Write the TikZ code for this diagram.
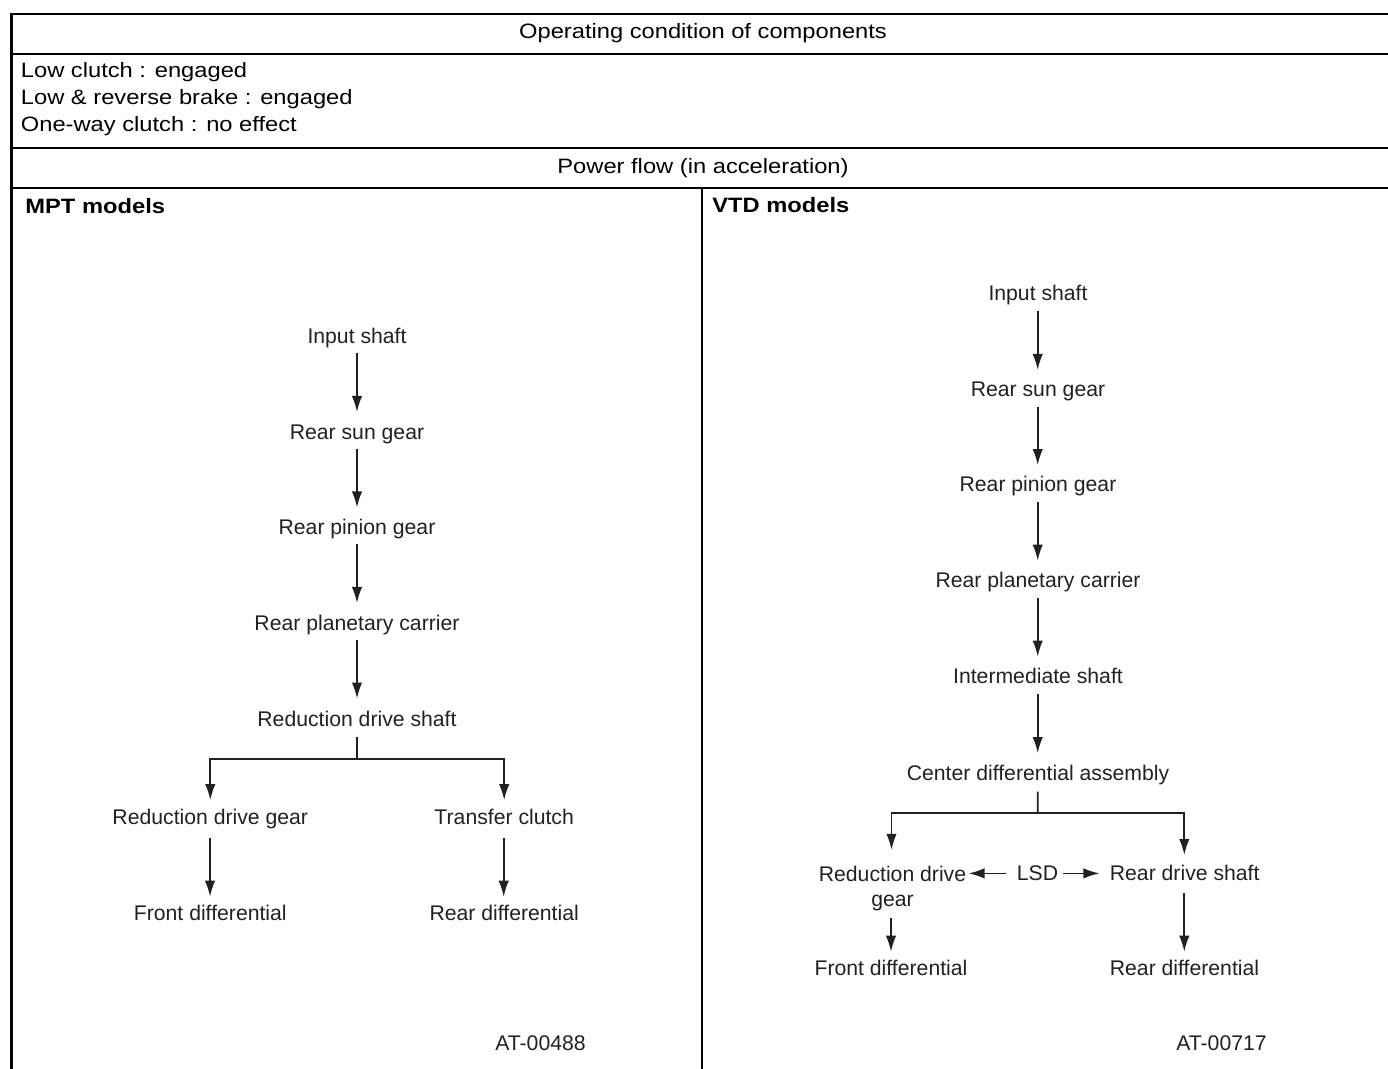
\documentclass[tikz,border=0pt]{standalone}
\usepackage{fontspec}
\setmainfont{Liberation Sans}
\newfontfamily\hdrfont{Liberation Sans}[FakeStretch=1.14]
\usetikzlibrary{arrows.meta}
\definecolor{treegray}{gray}{0.13}
\begin{document}
\begin{tikzpicture}[x=0.5pt,y=-0.5pt,
  rule/.style={line width=1pt, line join=miter, line cap=rect},
  hdr/.style={font=\hdrfont\fontsize{10.4pt}{13.4pt}\selectfont, inner sep=0pt, text height=7.45pt, text depth=0pt},
  hdrbold/.style={font=\hdrfont\bfseries\fontsize{10.4pt}{13.4pt}\selectfont, inner sep=0pt, text height=7.45pt, text depth=0pt},
  comp/.style={font=\fontsize{10.6pt}{12.5pt}\selectfont, text=treegray, inner sep=0pt, text height=7.5pt, text depth=0pt},
  multi/.style={font=\fontsize{10.6pt}{12.5pt}\selectfont, text=treegray, inner sep=0pt, align=center},
  flow/.style={line width=0.85pt, draw=treegray, -{Latex[length=8pt,width=5.2pt]}},
  link/.style={line width=0.85pt, draw=treegray}
]
\useasboundingbox (0,0) rectangle (1388,1069);

% table rules
\draw[rule, line width=1.3pt] (1388,14) -- (11.3,14) -- (11.3,1069);
\draw[rule] (11.3,53.7) -- (1388,53.7);
\draw[rule] (11.3,147.7) -- (1388,147.7);
\draw[rule] (11.3,187.7) -- (1388,187.7);
\draw[rule] (701.7,187.7) -- (701.7,1069);

% header texts
\node[hdr] (title) at (703,31) {Operating condition of components};
\node[hdr, anchor=north west, text height=, align=left] (cond) at (20.5,62.5)
  {Low clutch : engaged\\Low \& reverse brake : engaged\\One-way clutch : no effect};
\node[hdr] (power) at (703,166) {Power flow (in acceleration)};
\node[hdrbold, anchor=west] (mpt) at (25,206) {MPT models};
\node[hdrbold, anchor=west] (vtd) at (712,205.5) {VTD models};

% ---------- MPT tree ----------
\node[comp] (L1) at (357,336) {Input shaft};
\node[comp] (L2) at (357,432) {Rear sun gear};
\node[comp] (L3) at (357,527.5) {Rear pinion gear};
\node[comp] (L4) at (357,623) {Rear planetary carrier};
\node[comp] (L5) at (357,718.5) {Reduction drive shaft};
\node[comp] (L6) at (210.3,817.3) {Reduction drive gear};
\node[comp] (L7) at (504.2,817.3) {Transfer clutch};
\node[comp] (L8) at (210.3,913.3) {Front differential};
\node[comp] (L9) at (504.2,913.3) {Rear differential};
\node[comp] (Lid) at (540.5,1043.3) {AT-00488};

\draw[flow] ([yshift=-8.5pt]L1.center) -- ([yshift=10pt]L2.center);
\draw[flow] ([yshift=-8.5pt]L2.center) -- ([yshift=10pt]L3.center);
\draw[flow] ([yshift=-8.5pt]L3.center) -- ([yshift=10pt]L4.center);
\draw[flow] ([yshift=-8.5pt]L4.center) -- ([yshift=10pt]L5.center);
\coordinate (Lbr) at (357,759);
\draw[link] ([yshift=-9pt]L5.center) -- (Lbr);
\draw[flow] (Lbr) -| ([yshift=8.6pt]L6.center);
\draw[flow] (Lbr) -| ([yshift=8.6pt]L7.center);
\draw[flow] ([xshift=-0.15pt,yshift=-10.5pt]L6.center) -- ([xshift=-0.15pt,yshift=8.3pt]L8.center);
\draw[flow] ([xshift=-0.25pt,yshift=-10.5pt]L7.center) -- ([xshift=-0.25pt,yshift=8.3pt]L9.center);

% ---------- VTD tree ----------
\node[comp] (R1) at (1038,293.5) {Input shaft};
\node[comp] (R2) at (1038,389.3) {Rear sun gear};
\node[comp] (R3) at (1038,484.5) {Rear pinion gear};
\node[comp] (R4) at (1038,580) {Rear planetary carrier};
\node[comp] (R5) at (1038,676) {Intermediate shaft};
\node[comp] (R6) at (1038,772.5) {Center differential assembly};
\node[multi, anchor=north] (R7) at (892.5,865.8) {Reduction drive\\gear};
\node[comp] (lsd) at (1037.5,873.4) {LSD};
\node[comp] (R8) at (1184.7,873.4) {Rear drive shaft};
\node[comp] (R9) at (891,968.3) {Front differential};
\node[comp] (R10) at (1184.5,968.3) {Rear differential};
\node[comp] (Rid) at (1221.5,1043.3) {AT-00717};

\draw[flow] ([xshift=-0.15pt,yshift=-9pt]R1.center) -- ([xshift=-0.15pt,yshift=9.7pt]R2.center);
\draw[flow] ([xshift=-0.15pt,yshift=-9pt]R2.center) -- ([xshift=-0.15pt,yshift=9.7pt]R3.center);
\draw[flow] ([xshift=-0.15pt,yshift=-9pt]R3.center) -- ([xshift=-0.15pt,yshift=9.7pt]R4.center);
\draw[flow] ([xshift=-0.15pt,yshift=-9pt]R4.center) -- ([xshift=-0.15pt,yshift=9.7pt]R5.center);
\draw[flow] ([xshift=-0.15pt,yshift=-9pt]R5.center) -- ([xshift=-0.15pt,yshift=9.7pt]R6.center);
\coordinate (Rbr) at (1037.7,813.3);
\draw[link] ([xshift=-0.15pt,yshift=-9.6pt]R6.center) -- (Rbr);
\draw[flow] (Rbr) -| ([xshift=-0.5pt,yshift=8pt]R7.north);
\draw[flow] (Rbr) -| ([xshift=-0.2pt,yshift=9.2pt]R8.center);
\draw[flow] ([xshift=-5.3pt]lsd.west) -- ([xshift=1pt]lsd.west -| R7.east);
\draw[flow] ([xshift=2pt]lsd.east) -- ([xshift=-5pt]R8.west);
\draw[flow] ([xshift=-0.75pt,yshift=-3.3pt]R7.south) -- ([yshift=8.3pt]R9.center);
\draw[flow] ([xshift=-0.2pt,yshift=-9.9pt]R8.center) -- ([xshift=-0.1pt,yshift=8.3pt]R10.center);
\end{tikzpicture}
\end{document}
